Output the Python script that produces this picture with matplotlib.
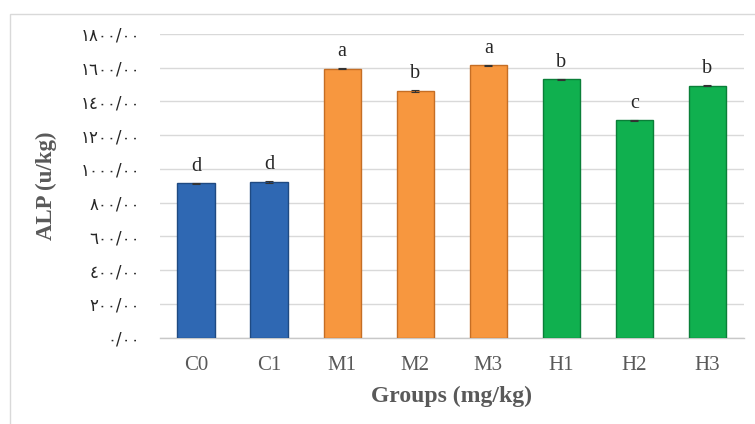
import matplotlib
matplotlib.use("Agg")
import matplotlib.pyplot as plt
from matplotlib.patches import Rectangle

groups = ["C0", "C1", "M1", "M2", "M3", "H1", "H2", "H3"]
alp_values = [914, 922, 1595, 1462, 1614, 1532, 1287, 1494]
alp_errors = [4, 4, 4, 4, 4, 4, 4, 4]
letters = ["d", "d", "a", "b", "a", "b", "c", "b"]
bar_colors = ["#2f68b3", "#2f68b3", "#f7973f", "#f7973f", "#f7973f",
              "#10b04f", "#10b04f", "#10b04f"]
edge_colors = ["#1f4a82", "#1f4a82", "#c56e25", "#c56e25", "#c56e25",
               "#0a7f38", "#0a7f38", "#0a7f38"]
y_ticks = [0, 200, 400, 600, 800, 1000, 1200, 1400, 1600, 1800]
y_tick_labels = ["٠/٠٠", "٢٠٠/٠٠", "٤٠٠/٠٠", "٦٠٠/٠٠", "٨٠٠/٠٠",
                 "١٠٠٠/٠٠", "١٢٠٠/٠٠", "١٤٠٠/٠٠", "١٦٠٠/٠٠", "١٨٠٠/٠٠"]

serif = ["Liberation Serif", "DejaVu Serif"]
arabic = ["DejaVu Sans", "Noto Sans"]

fig = plt.figure(figsize=(7.55, 4.24), dpi=100)
fig.patches.append(Rectangle((10 / 755, -0.05), 1.0, 0.05 + 1 - 14 / 424,
                             transform=fig.transFigure, fill=False,
                             edgecolor="#d9d9d9", linewidth=1.0))
ax = fig.add_axes([159.5 / 755, 1 - 337.5 / 424, (744 - 159.5) / 755,
                   (337.5 - 34) / 424])

x = list(range(len(groups)))
ax.bar(x, alp_values, width=0.51, color=bar_colors, edgecolor=edge_colors,
       linewidth=1.0, zorder=3)
ax.errorbar(x, alp_values, yerr=alp_errors, fmt="none", ecolor="#333333",
            elinewidth=0.8, capsize=3, capthick=0.8, zorder=4)

for xi, val, letter in zip(x, alp_values, letters):
    ax.annotate(letter, (xi, val), xytext=(0, 5.5), textcoords="offset points",
                ha="center", va="bottom", fontsize=14.5, family=serif,
                color="#262626")

ax.set_xlim(-0.5, len(groups) - 0.5)
ax.set_ylim(0, 1800)
ax.set_yticks(y_ticks)
ax.set_yticklabels(y_tick_labels, family=arabic, fontsize=12, color="#262626")
ax.set_xticks(x)
ax.set_xticklabels(groups, family=serif, fontsize=15, color="#595959")
ax.tick_params(axis="both", length=0)
ax.tick_params(axis="y", pad=14)
ax.tick_params(axis="x", pad=13)

ax.grid(axis="y", color="#d9d9d9", linewidth=1.0, zorder=0)
ax.set_axisbelow(True)
for side in ("top", "right", "left"):
    ax.spines[side].set_visible(False)
ax.spines["bottom"].set_color("#c8c8c8")
ax.spines["bottom"].set_linewidth(1.0)

ax.set_xlabel("Groups (mg/kg)", family=serif, fontsize=17, fontweight="bold",
              color="#595959", labelpad=8)
ax.set_ylabel("ALP (u/kg)", family=serif, fontsize=16.5, fontweight="bold",
              color="#595959")
ax.yaxis.set_label_coords(-(159.5 - 57) / (744 - 159.5), 0.5)

fig.savefig("out.png", dpi=100)
